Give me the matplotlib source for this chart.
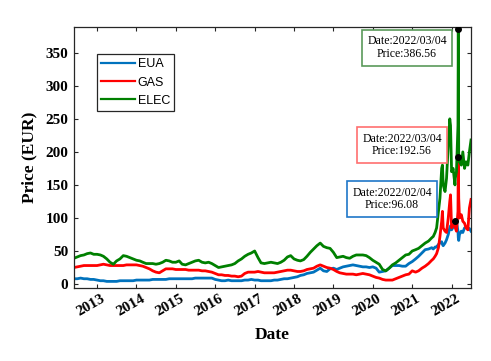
import matplotlib
matplotlib.use("Agg")
import matplotlib.pyplot as plt
import matplotlib.dates as mdates
from matplotlib.transforms import ScaledTranslation
import pandas as pd

# monthly readings, Jun 2012 .. Jun 2021
monthly_start = "2012-06-01"
eua_monthly = [
    8, 8, 9, 8, 8, 7, 7,
    6, 5, 5, 4, 4, 4, 4, 5, 5, 5, 5, 5,
    6, 6, 6, 6, 6, 7, 7, 7, 7, 7, 8, 8,
    8, 8, 8, 8, 8, 8, 9, 9, 9, 9, 9, 9,
    7, 6, 5, 5, 6, 5, 5, 5, 5, 6, 6, 7,
    6, 6, 5, 5, 5, 5, 6, 6, 7, 8, 8, 9,
    10, 11, 13, 14, 16, 17, 18, 21, 24, 20, 19, 23,
    24, 22, 24, 26, 27, 28, 29, 28, 27, 26, 26, 25,
    26, 24, 18, 19, 20, 24, 28, 28, 28, 27, 27, 31,
    34, 38, 42, 47, 52, 53,
]
gas_monthly = [
    25, 26, 27, 28, 28, 28, 28,
    28, 29, 30, 29, 28, 28, 28, 28, 28, 29, 29, 29,
    29, 28, 27, 25, 23, 20, 18, 17, 20, 23, 23, 23,
    22, 22, 22, 22, 21, 21, 21, 21, 20, 20, 19, 18,
    16, 14, 14, 13, 13, 12, 12, 11, 12, 16, 18, 18,
    18, 19, 18, 17, 17, 17, 17, 18, 19, 20, 21, 21,
    20, 19, 19, 20, 22, 23, 24, 27, 29, 27, 25, 24,
    22, 19, 17, 16, 15, 15, 15, 14, 15, 16, 15, 14,
    12, 10, 9, 7, 6, 6, 6, 8, 10, 12, 14, 15,
    20, 18, 20, 24, 27, 31,
]
elec_monthly = [
    39, 41, 43, 44, 46, 47, 45,
    45, 44, 42, 38, 33, 30, 35, 38, 43, 42, 40, 38,
    36, 35, 33, 31, 31, 31, 30, 31, 33, 36, 35, 33,
    33, 35, 30, 29, 31, 33, 35, 36, 33, 32, 33, 31,
    28, 25, 26, 27, 28, 29, 31, 35, 38, 42, 45, 47,
    50, 40, 32, 31, 32, 33, 32, 31, 33, 36, 41, 43,
    38, 36, 35, 37, 42, 48, 53, 58, 62, 57, 55, 54,
    48, 40, 41, 42, 40, 39, 42, 44, 44, 44, 43, 40,
    36, 33, 30, 22, 20, 24, 29, 32, 36, 40, 44, 45,
    50, 52, 54, 58, 62, 65,
]

# finer readings for the volatile period
late_dates = [
    "2021-07-01", "2021-07-15", "2021-08-01", "2021-08-15", "2021-09-01",
    "2021-09-15", "2021-10-01", "2021-10-08", "2021-10-15", "2021-11-01",
    "2021-11-15", "2021-12-01", "2021-12-15", "2021-12-22", "2022-01-01",
    "2022-01-15", "2022-02-01", "2022-02-04", "2022-02-15", "2022-03-01",
    "2022-03-04", "2022-03-08", "2022-03-15", "2022-04-01", "2022-04-15",
    "2022-05-01", "2022-05-15", "2022-06-01", "2022-06-15", "2022-06-30",
]
eua_late = [55, 53, 56, 56, 60, 62, 64, 60, 58, 62, 67, 75, 85, 88, 82,
            86, 92, 96.08, 95, 80, 70, 66, 75, 80, 78, 85, 86, 85, 84, 80]
gas_late = [36, 38, 42, 46, 55, 72, 95, 110, 85, 80, 78, 100, 125, 135, 85,
            88, 90, 85, 80, 110, 192.56, 130, 100, 105, 95, 92, 85, 82, 115, 128]
elec_late = [70, 72, 78, 85, 110, 130, 175, 180, 150, 140, 160, 210, 250, 240, 170,
             175, 150, 160, 170, 240, 386.56, 190, 185, 180, 200, 175, 185, 180, 200, 218]

series_names = ["EUA", "GAS", "ELEC"]
series_colors = ["#0072BD", "#FF0000", "#008000"]
box_colors = ["#1f77c8", "#ff7070", "#5a9a5a"]
tip_dates = ["2022-02-04", "2022-03-04", "2022-03-04"]
tip_pos = [(0.801, 0.341), (0.826, 0.548), (0.839, 0.920)]

dates = list(pd.date_range(monthly_start, periods=len(eua_monthly), freq="MS")) + \
    list(pd.to_datetime(late_dates))
values = [eua_monthly + eua_late, gas_monthly + gas_late, elec_monthly + elec_late]

serif = ["Liberation Serif", "DejaVu Serif"]

fig = plt.figure(figsize=(4.91, 3.61), dpi=100)
ax = fig.add_axes([0.1507, 0.2022, 0.8086, 0.7230])

for name, color, vals in zip(series_names, series_colors, values):
    ax.plot(dates, vals, color=color, linewidth=2.0, label=name)

# data tips
for vals, color, d, pos in zip(values, box_colors, tip_dates, tip_pos):
    i = dates.index(pd.Timestamp(d))
    ax.plot(dates[i], vals[i], "o", color="black", markersize=4, zorder=5)
    ax.text(pos[0], pos[1],
            f"Date:{dates[i]:%Y/%m/%d}\nPrice:{vals[i]:.2f}",
            transform=ax.transAxes, ha="center", va="center",
            fontsize=8.5, family=serif, linespacing=1.1,
            bbox=dict(boxstyle="square,pad=0.45", facecolor="white",
                      edgecolor=color, linewidth=1.2), zorder=6)

ax.set_xlim(dates[0], dates[-1])
ax.set_ylim(-6, 389)
ax.set_yticks(range(0, 351, 50))
ax.xaxis.set_major_locator(mdates.YearLocator())
ax.xaxis.set_major_formatter(mdates.DateFormatter("%Y"))

ax.tick_params(direction="in", length=3, width=0.8, top=True, right=True,
               colors="#262626")
ax.tick_params(axis="y", pad=4)
ax.tick_params(axis="x", pad=3)
for lab in ax.get_yticklabels():
    lab.set_fontfamily(serif)
    lab.set_fontweight("bold")
    lab.set_fontsize(11)
    lab.set_color("black")
shift = ScaledTranslation(4 / 100, 0, fig.dpi_scale_trans)
for lab in ax.get_xticklabels():
    lab.set_fontfamily(serif)
    lab.set_fontweight("bold")
    lab.set_fontsize(11)
    lab.set_color("black")
    lab.set_rotation(30)
    lab.set_ha("right")
    lab.set_va("top")
    lab.set_rotation_mode("anchor")
    lab.set_transform(lab.get_transform() + shift)

for sp in ax.spines.values():
    sp.set_linewidth(0.9)
    sp.set_color("#262626")

ax.set_ylabel("Price (EUR)", fontsize=12.5, fontweight="bold", family=serif,
              labelpad=6)
ax.set_xlabel("Date", fontsize=12.5, fontweight="bold", family=serif, labelpad=6)

leg = ax.legend(loc="upper left", bbox_to_anchor=(0.058, 0.897),
                prop={"family": "Liberation Sans", "size": 9},
                handlelength=2.7, handletextpad=0.2, borderpad=0.35,
                borderaxespad=0, fancybox=False, framealpha=1)
leg.get_frame().set_edgecolor("#262626")
leg.get_frame().set_linewidth(0.9)
for line in leg.get_lines():
    line.set_linewidth(1.6)

fig.savefig("out.png", dpi=100)
